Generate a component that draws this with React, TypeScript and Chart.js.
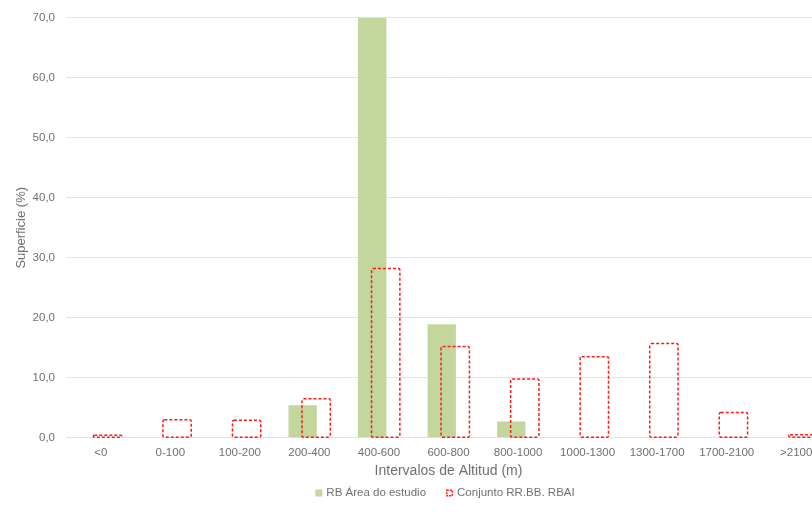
import React, { useEffect, useRef } from "react";
import { Chart, registerables } from "chart.js";

Chart.register(...registerables);

const categories = ["<0", "0-100", "100-200", "200-400", "400-600", "600-800", "800-1000", "1000-1300", "1300-1700", "1700-2100", ">2100"];
const rbArea = [0, 0, 0, 5.4, 70.0, 18.9, 2.7, 0, 0, 0, 0];
const conjunto = [0.4, 3.0, 2.9, 6.5, 28.2, 15.2, 9.8, 13.5, 15.7, 4.2, 0.5];
const seriesNames = ["RB Área do estudio", "Conjunto RR.BB. RBAI"];
const yTicks = { min: 0, max: 70, step: 10 };

const GREEN = "#C3D69B";
const RED = "#FF1A1A";
const TEXT = "#707070";
const FONT = "'Liberation Sans', Arial, sans-serif";

const dashedBars = {
  id: "dashedBars",
  afterDatasetsDraw(chart: any) {
    const meta = chart.getDatasetMeta(1);
    const ctx = chart.ctx;
    ctx.save();
    const a = chart.chartArea;
    ctx.beginPath();
    ctx.rect(a.left, a.top - 2, a.right - a.left, a.bottom - a.top + 4);
    ctx.clip();
    ctx.strokeStyle = RED;
    ctx.lineWidth = 1.5;
    ctx.setLineDash([3, 2]);
    meta.data.forEach((el: any) => {
      const p = el.getProps(["x", "y", "base", "width"], true);
      const left = p.x - p.width / 2;
      const top = Math.min(p.y, p.base);
      const h = Math.abs(p.base - p.y);
      ctx.beginPath();
      if ((ctx as any).roundRect) (ctx as any).roundRect(left, top, p.width, h, 1.5);
      else ctx.rect(left, top, p.width, h);
      ctx.stroke();
    });
    ctx.restore();
  },
};

const customLegend = {
  id: "customLegend",
  afterDraw(chart: any) {
    const ctx = chart.ctx;
    ctx.save();
    ctx.font = `11.5px ${FONT}`;
    ctx.textBaseline = "middle";
    ctx.fillStyle = TEXT;
    const box = 7;
    const gapBoxText = 4;
    const gapItems = 20;
    const widths = seriesNames.map((n) => box + gapBoxText + ctx.measureText(n).width);
    const total = widths[0] + gapItems + widths[1];
    const cx = 445;
    const cy = 493;
    let x = cx - total / 2;
    ctx.fillStyle = GREEN;
    ctx.fillRect(x, cy - box / 2, box, box);
    ctx.fillStyle = TEXT;
    ctx.fillText(seriesNames[0], x + box + gapBoxText, cy);
    x += widths[0] + gapItems;
    ctx.strokeStyle = RED;
    ctx.lineWidth = 1.5;
    ctx.setLineDash([2, 1]);
    ctx.strokeRect(x + 0.75, cy - box / 2 + 0.75, box - 1.5, box - 1.5);
    ctx.setLineDash([]);
    ctx.fillStyle = TEXT;
    ctx.fillText(seriesNames[1], x + box + gapBoxText, cy);
    ctx.restore();
  },
};

export default function App() {
  const ref = useRef<HTMLCanvasElement>(null);
  useEffect(() => {
    if (!ref.current) return;
    const chart = new Chart(ref.current, {
      type: "bar",
      data: {
        labels: categories,
        datasets: [
          {
            label: seriesNames[0],
            data: rbArea,
            backgroundColor: GREEN,
            borderWidth: 0,
            categoryPercentage: 0.388,
            barPercentage: 2.1,
          },
          {
            label: seriesNames[1],
            data: conjunto,
            backgroundColor: "rgba(0,0,0,0)",
            borderWidth: 0,
            categoryPercentage: 0.388,
            barPercentage: 2.1,
          },
        ],
      },
      options: {
        responsive: false,
        animation: false,
        layout: { padding: { top: 12, left: 0, right: 9, bottom: 36 } },
        plugins: {
          tooltip: { enabled: false },
          legend: { display: false },
        },
        scales: {
          x: {
            afterFit: (s: any) => { s.height = 42.3; },
            grid: { display: false, drawTicks: false },
            border: { display: false },
            ticks: { color: TEXT, font: { family: FONT, size: 11.5 }, padding: 8, maxRotation: 0, autoSkip: false },
            title: { display: true, text: "Intervalos de Altitud (m)", color: TEXT, font: { family: FONT, size: 14 }, padding: { top: 5, bottom: 0 } },
          },
          y: {
            min: yTicks.min,
            max: yTicks.max,
            afterFit: (s: any) => { s.width = 66; },
            grid: { color: "#E3E3E3", lineWidth: 1, drawTicks: false },
            border: { display: false },
            ticks: {
              stepSize: yTicks.step,
              color: TEXT,
              font: { family: FONT, size: 11.5 },
              padding: 11,
              callback: (v: any) => Number(v).toFixed(1).replace(".", ","),
            },
            title: { display: true, text: "Superficie (%)", color: TEXT, font: { family: FONT, size: 13 }, padding: { top: 14, bottom: 0 } },
          },
        },
      },
      plugins: [dashedBars, customLegend],
    });
    return () => chart.destroy();
  }, []);
  return (
    <div style={{ position: "fixed", left: 0, top: 0, width: 812, height: 516, overflow: "hidden", background: "#fff" }}>
      <canvas ref={ref} width={840} height={516} style={{ display: "block" }} />
    </div>
  );
}
